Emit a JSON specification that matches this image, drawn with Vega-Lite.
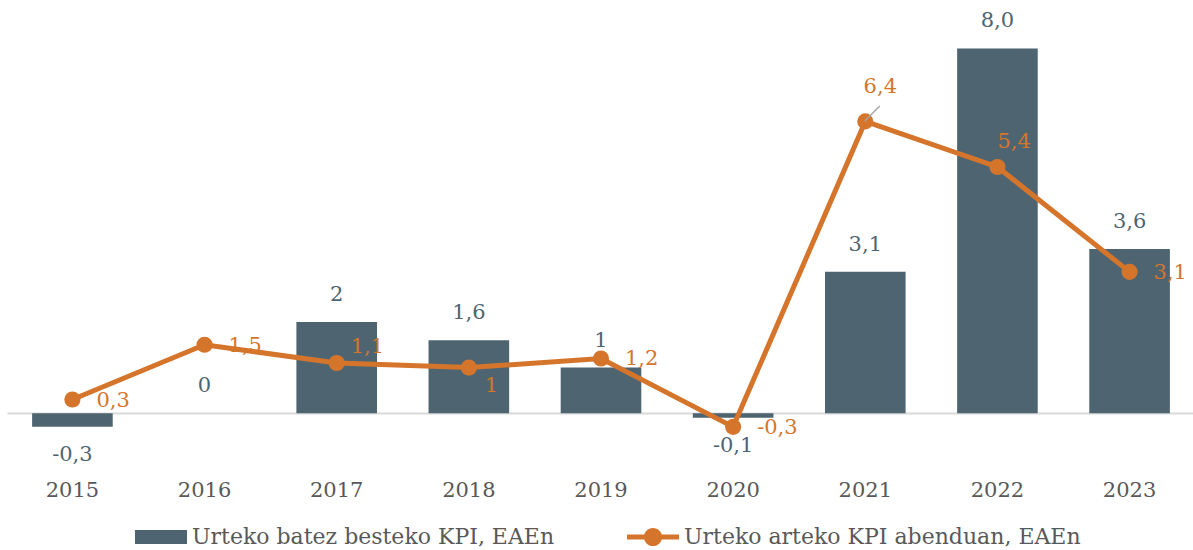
{
  "$schema": "https://vega.github.io/schema/vega-lite/v6.json",
  "width": 1188,
  "height": 465,
  "autosize": {"type": "none"},
  "padding": {"left": 7, "top": 12, "right": 0, "bottom": 73},
  "background": "white",
  "config": {"view": {"stroke": null}, "font": "DejaVu Serif"},
  "data": {
    "values": [
      {"year": "2015", "kpi_avg": -0.3, "avg_label": "-0,3", "kpi_dec": 0.3, "dec_label": "0,3"},
      {"year": "2016", "kpi_avg": 0, "avg_label": "0", "kpi_dec": 1.5, "dec_label": "1,5"},
      {"year": "2017", "kpi_avg": 2, "avg_label": "2", "kpi_dec": 1.1, "dec_label": "1,1"},
      {"year": "2018", "kpi_avg": 1.6, "avg_label": "1,6", "kpi_dec": 1.0, "dec_label": "1"},
      {"year": "2019", "kpi_avg": 1, "avg_label": "1", "kpi_dec": 1.2, "dec_label": "1,2"},
      {"year": "2020", "kpi_avg": -0.1, "avg_label": "-0,1", "kpi_dec": -0.3, "dec_label": "-0,3"},
      {"year": "2021", "kpi_avg": 3.1, "avg_label": "3,1", "kpi_dec": 6.4, "dec_label": "6,4"},
      {"year": "2022", "kpi_avg": 8.0, "avg_label": "8,0", "kpi_dec": 5.4, "dec_label": "5,4"},
      {"year": "2023", "kpi_avg": 3.6, "avg_label": "3,6", "kpi_dec": 3.1, "dec_label": "3,1"}
    ]
  },
  "encoding": {
    "x": {
      "field": "year",
      "type": "nominal",
      "sort": null,
      "scale": {"paddingInner": 0.39, "paddingOuter": 0.19},
      "axis": {
        "title": null,
        "labelAngle": 0,
        "ticks": false,
        "domain": false,
        "labelFontSize": 21,
        "labelColor": "#595959",
        "labelPadding": 2,
        "labelFont": "DejaVu Serif"
      }
    }
  },
  "layer": [
    {
      "mark": {"type": "bar", "color": "#4e6571"},
      "encoding": {
        "y": {
          "field": "kpi_avg",
          "type": "quantitative",
          "scale": {"domain": [-1.4, 8.8], "nice": false, "zero": false},
          "axis": {"values": [0], "grid": true, "gridColor": "#d9d9d9", "gridWidth": 2, "labels": false, "ticks": false, "domain": false, "title": null}
        }
      }
    },
    {
      "transform": [{"filter": "datum.kpi_avg >= 0"}],
      "mark": {"type": "text", "color": "#4e6571", "fontSize": 21, "font": "DejaVu Serif", "baseline": "middle", "dy": -27},
      "encoding": {
        "y": {"field": "kpi_avg", "type": "quantitative"},
        "text": {"field": "avg_label"}
      }
    },
    {
      "transform": [{"filter": "datum.kpi_avg < 0"}],
      "mark": {"type": "text", "color": "#4e6571", "fontSize": 21, "font": "DejaVu Serif", "baseline": "middle", "dy": 28},
      "encoding": {
        "y": {"field": "kpi_avg", "type": "quantitative"},
        "text": {"field": "avg_label"}
      }
    },
    {
      "mark": {"type": "line", "color": "#d5752b", "strokeWidth": 5},
      "encoding": {"y": {"field": "kpi_dec", "type": "quantitative"}}
    },
    {
      "mark": {"type": "point", "filled": true, "color": "#d5752b", "size": 260, "opacity": 1},
      "encoding": {"y": {"field": "kpi_dec", "type": "quantitative"}}
    },
    {
      "transform": [{"filter": "indexof(['2015','2016','2019','2020','2023'], datum.year) >= 0"}],
      "mark": {"type": "text", "color": "#d5752b", "fontSize": 21, "font": "DejaVu Serif", "align": "left", "baseline": "middle", "dx": 24, "dy": 1},
      "encoding": {"y": {"field": "kpi_dec", "type": "quantitative"}, "text": {"field": "dec_label"}}
    },
    {
      "transform": [{"filter": "datum.year == '2017'"}],
      "mark": {"type": "text", "color": "#d5752b", "fontSize": 21, "font": "DejaVu Serif", "align": "left", "baseline": "middle", "dx": 14, "dy": -16},
      "encoding": {"y": {"field": "kpi_dec", "type": "quantitative"}, "text": {"field": "dec_label"}}
    },
    {
      "transform": [{"filter": "datum.year == '2018'"}],
      "mark": {"type": "text", "color": "#d5752b", "fontSize": 21, "font": "DejaVu Serif", "align": "left", "baseline": "middle", "dx": 16, "dy": 18},
      "encoding": {"y": {"field": "kpi_dec", "type": "quantitative"}, "text": {"field": "dec_label"}}
    },
    {
      "transform": [{"filter": "datum.year == '2021'"}],
      "mark": {"type": "text", "color": "#d5752b", "fontSize": 21, "font": "DejaVu Serif", "align": "center", "baseline": "middle", "dx": 15, "dy": -34},
      "encoding": {"y": {"field": "kpi_dec", "type": "quantitative"}, "text": {"field": "dec_label"}}
    },
    {
      "transform": [{"filter": "datum.year == '2022'"}],
      "mark": {"type": "text", "color": "#d5752b", "fontSize": 21, "font": "DejaVu Serif", "align": "left", "baseline": "middle", "dx": 0, "dy": -25},
      "encoding": {"y": {"field": "kpi_dec", "type": "quantitative"}, "text": {"field": "dec_label"}}
    },
    {
      "transform": [{"filter": "datum.year == '2021'"}],
      "mark": {"type": "point", "shape": "M-1,1L1,-1", "filled": false, "stroke": "#a6a6a6", "strokeWidth": 1.5, "size": 225, "opacity": 1, "xOffset": 7, "yOffset": -8},
      "encoding": {"y": {"field": "kpi_dec", "type": "quantitative"}}
    },
    {
      "transform": [{"filter": "false"}],
      "mark": {"type": "point", "filled": true, "opacity": 1, "size": 2704},
      "encoding": {
        "color": {
          "field": "series",
          "type": "nominal",
          "scale": {"domain": ["Urteko batez besteko KPI, EAEn", "Urteko arteko KPI abenduan, EAEn"], "range": ["#4e6571", "#d5752b"]},
          "legend": {
            "title": null,
            "orient": "none",
            "legendX": 128,
            "legendY": 499,
            "direction": "horizontal",
            "symbolSize": 2704,
            "symbolStrokeWidth": 0,
            "labelFontSize": 22,
            "labelFont": "DejaVu Serif",
            "labelColor": "#595959",
            "labelOffset": 5,
            "columnPadding": 72,
            "labelLimit": 600
          }
        },
        "shape": {
          "field": "series",
          "type": "nominal",
          "scale": {"domain": ["Urteko batez besteko KPI, EAEn", "Urteko arteko KPI abenduan, EAEn"], "range": ["M-1,-0.27H1V0.27H-1Z", "M-1,-0.1H1V0.1H-1Z M-0.35,0A0.35,0.35 0 1,1 0.35,0A0.35,0.35 0 1,1 -0.35,0Z"]}
        }
      }
    }
  ]
}
